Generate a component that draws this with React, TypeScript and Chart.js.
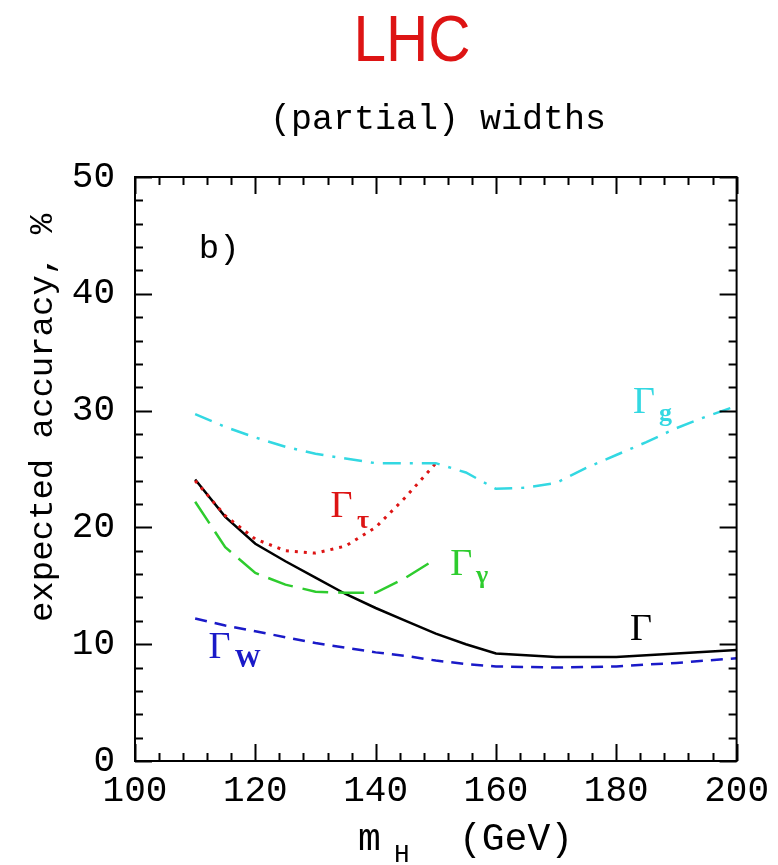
import React, { useEffect, useRef } from "react";
import { Chart, registerables } from "chart.js";

Chart.register(...registerables);

// ---- data (Higgs mass in GeV, expected accuracy in %) ----
const massTotal = [110, 115, 120, 125, 130, 135, 140, 145, 150, 155, 160, 170, 180, 190, 200];
const accTotal = [24.1, 20.9, 18.6, 17.1, 15.7, 14.3, 13.1, 12.0, 10.9, 10.0, 9.2, 8.9, 8.9, 9.2, 9.5];

const massTau = [110, 115, 120, 125, 130, 135, 140, 145, 150];
const accTau = [24.0, 21.0, 19.0, 18.0, 17.8, 18.4, 20.0, 22.6, 25.5];

const massGamma = [110, 115, 120, 125, 130, 135, 140, 145, 150];
const accGamma = [22.2, 18.3, 16.1, 15.1, 14.5, 14.4, 14.4, 15.7, 17.3];

const massGluon = [110, 115, 120, 125, 130, 135, 140, 145, 150, 155, 160, 165, 170, 175, 180, 185, 190, 195, 200];
const accGluon = [29.7, 28.6, 27.7, 26.9, 26.3, 25.9, 25.5, 25.5, 25.5, 24.7, 23.3, 23.4, 23.8, 25.1, 26.2, 27.3, 28.5, 29.5, 30.4];

const massW = [110, 115, 120, 125, 130, 135, 140, 145, 150, 155, 160, 170, 180, 190, 200];
const accW = [12.2, 11.6, 11.1, 10.6, 10.1, 9.7, 9.3, 9.0, 8.6, 8.3, 8.1, 8.0, 8.1, 8.4, 8.8];

// ---- axes ----
const xMajorTicks = [100, 120, 140, 160, 180, 200];
const xMinorStep = 4;
const yMajorTicks = [0, 10, 20, 30, 40, 50];
const yMinorStep = 2;

const titleText = "LHC";
const subtitleText = "(partial) widths";
const yTitle = "expected accuracy, %";
const xTitleMain = "m";
const xTitleSub = "H";
const xTitleUnit = "(GeV)";

const MONO = "'Liberation Mono', 'DejaVu Sans Mono', monospace";
const SERIF = "'Liberation Serif', 'DejaVu Serif', serif";

const RED = "#dd1414";
const GREEN = "#2ecc2e";
const BLUE = "#1a1ac8";
const CYAN = "#33d8e2";

// in-plot labels
const plotLabels = [
  { main: "\u0393", sub: "g", color: CYAN, x: 182.8, y: 29.8, sx: 187.1, sy: 29.1 },
  { main: "\u0393", sub: "\u03c4", color: RED, x: 132.5, y: 20.9, sx: 136.9, sy: 19.95 },
  { main: "\u0393", sub: "\u03b3", color: GREEN, x: 152.4, y: 15.9, sx: 156.7, sy: 15.2 },
  { main: "\u0393", sub: "", color: "#000", x: 182.3, y: 10.36, sx: 0, sy: 0 },
  { main: "\u0393", sub: "W", color: BLUE, x: 112.2, y: 8.82, sx: 116.6, sy: 8.05 },
];

function pts(xs: number[], ys: number[]) {
  return xs.map((x, i) => ({ x, y: ys[i] }));
}

const framePlugin = {
  id: "frameTicks",
  afterDatasetsDraw(chart: any) {
    const { ctx, chartArea: a, scales } = chart;
    const xs = scales.x;
    const ys = scales.y;
    ctx.save();
    ctx.strokeStyle = "#000";
    ctx.lineWidth = 2;
    ctx.strokeRect(a.left, a.top, a.right - a.left, a.bottom - a.top);
    const majLen = 17;
    const minLen = 8;
    ctx.beginPath();
    const xMin = xMajorTicks[0];
    const xMax = xMajorTicks[xMajorTicks.length - 1];
    for (let v = xMin; v <= xMax + 1e-9; v += xMinorStep) {
      const major = xMajorTicks.includes(v);
      const len = major ? majLen : minLen;
      const px = Math.round(xs.getPixelForValue(v)) + 0.5;
      ctx.moveTo(px, a.bottom);
      ctx.lineTo(px, a.bottom - len);
      ctx.moveTo(px, a.top);
      ctx.lineTo(px, a.top + len);
    }
    const yMin = yMajorTicks[0];
    const yMax = yMajorTicks[yMajorTicks.length - 1];
    for (let v = yMin; v <= yMax + 1e-9; v += yMinorStep) {
      const major = yMajorTicks.includes(v);
      const len = major ? majLen : minLen;
      const py = Math.round(ys.getPixelForValue(v)) + 0.5;
      ctx.moveTo(a.left, py);
      ctx.lineTo(a.left + len, py);
      ctx.moveTo(a.right, py);
      ctx.lineTo(a.right - len, py);
    }
    ctx.stroke();
    ctx.restore();
  },
  afterDraw(chart: any) {
    const { ctx, scales } = chart;
    const xs = scales.x;
    const ys = scales.y;
    ctx.save();
    // main title (narrowed sans)
    ctx.save();
    ctx.fillStyle = RED;
    ctx.textAlign = "center";
    ctx.textBaseline = "alphabetic";
    ctx.font = "65px 'Liberation Sans', 'DejaVu Sans', sans-serif";
    ctx.translate(412, 61);
    ctx.scale(0.9, 1);
    ctx.fillText(titleText, 0, 0);
    ctx.restore();
    // subtitle
    ctx.fillStyle = "#000";
    ctx.textAlign = "center";
    ctx.textBaseline = "alphabetic";
    ctx.font = `35px ${MONO}`;
    ctx.fillText(subtitleText, 438, 129);
    // y title
    ctx.save();
    ctx.translate(43, 418);
    ctx.rotate(-Math.PI / 2);
    ctx.font = `34px ${MONO}`;
    ctx.textBaseline = "middle";
    ctx.fillText(yTitle, 0, 0);
    ctx.restore();
    // x title
    ctx.textAlign = "left";
    ctx.textBaseline = "alphabetic";
    ctx.font = `38px ${MONO}`;
    ctx.fillText(xTitleMain, 358, 850);
    ctx.font = `26px ${MONO}`;
    ctx.fillText(xTitleSub, 394, 862);
    ctx.font = `38px ${MONO}`;
    ctx.textAlign = "right";
    ctx.fillText(xTitleUnit, 573, 850);
    // panel label
    ctx.textAlign = "left";
    ctx.font = `34px ${MONO}`;
    ctx.fillText("b)", xs.getPixelForValue(110.6), ys.getPixelForValue(43.1));
    // curve labels
    for (const l of plotLabels) {
      ctx.fillStyle = l.color;
      ctx.font = `38px ${SERIF}`;
      ctx.fillText(l.main, xs.getPixelForValue(l.x), ys.getPixelForValue(l.y));
      if (l.sub) {
        ctx.font = `bold 26px ${SERIF}`;
        ctx.fillText(l.sub, xs.getPixelForValue(l.sx), ys.getPixelForValue(l.sy));
      }
    }
    ctx.restore();
  },
};

export default function App() {
  const ref = useRef<HTMLCanvasElement>(null);
  useEffect(() => {
    document.body.style.margin = "0";
    const common = { pointRadius: 0, borderWidth: 2.5, tension: 0, fill: false };
    const chart = new Chart(ref.current as HTMLCanvasElement, {
      type: "line",
      data: {
        datasets: [
          { ...common, label: "Γg", data: pts(massGluon, accGluon), borderColor: CYAN, borderDash: [18, 9, 3, 9] },
          { ...common, label: "Γτ", data: pts(massTau, accTau), borderColor: RED, borderWidth: 3, borderDash: [3, 6] },
          { ...common, label: "Γγ", data: pts(massGamma, accGamma), borderColor: GREEN, borderDash: [26, 10] },
          { ...common, label: "ΓW", data: pts(massW, accW), borderColor: BLUE, borderDash: [12, 8] },
          { ...common, label: "Γ", data: pts(massTotal, accTotal), borderColor: "#000" },
        ],
      },
      options: {
        animation: false,
        responsive: false,
        devicePixelRatio: 1,
        layout: { padding: { top: 177, right: 38, left: 0, bottom: 0 } },
        plugins: { legend: { display: false }, tooltip: { enabled: false }, title: { display: false } },
        scales: {
          x: {
            type: "linear",
            min: 100,
            max: 200,
            grid: { display: false, drawTicks: false },
            border: { display: false },
            afterFit: (s: any) => { s.height = 104; },
            afterBuildTicks: (s: any) => { s.ticks = xMajorTicks.map((v) => ({ value: v })); },
            ticks: { color: "#000", padding: 9, maxRotation: 0, font: { family: MONO, size: 36 } },
          },
          y: {
            type: "linear",
            min: 0,
            max: 50,
            grid: { display: false, drawTicks: false },
            border: { display: false },
            afterFit: (s: any) => { s.width = 135; },
            afterBuildTicks: (s: any) => { s.ticks = yMajorTicks.map((v) => ({ value: v })); },
            ticks: { color: "#000", padding: 20, font: { family: MONO, size: 36 } },
          },
        },
      },
      plugins: [framePlugin],
    });
    return () => chart.destroy();
  }, []);
  return (
    <div style={{ width: 778, height: 865, position: "relative" }}>
      <canvas ref={ref} width={778} height={865} style={{ display: "block" }} />
    </div>
  );
}
